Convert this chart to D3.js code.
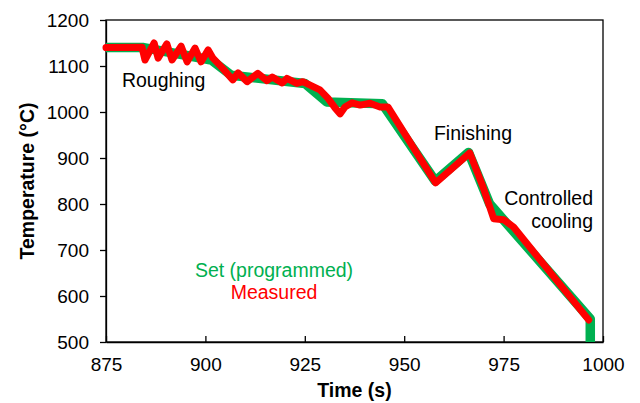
<!DOCTYPE html>
<html>
<head>
<meta charset="utf-8">
<script src="https://cdn.jsdelivr.net/npm/d3@7"></script>
<style>
  html, body { margin: 0; padding: 0; background: #fff; }
  svg text { font-family: "Liberation Sans", Arial, sans-serif; }
</style>
</head>
<body>
<svg id="chart" width="640" height="403"></svg>
<script>
// Programmed (set) temperature schedule: [time s, temperature °C]
const setSchedule = [
  [875, 1140], [884.5, 1140], [901.5, 1113], [906.5, 1080], [925, 1062],
  [930.5, 1022], [944.5, 1018], [957.8, 850], [966.2, 912], [971.5, 800],
  [996.8, 550], [996.8, 500]
];

// Measured temperature: [time s, temperature °C]
const measured = [
  [875, 1140], [884.05, 1141], [884.8, 1113], [887.1, 1150], [888.1, 1117],
  [890.3, 1148], [891.6, 1113], [893.9, 1143], [895.4, 1109], [897.4, 1139],
  [898.9, 1109], [900.7, 1135], [901.9, 1117], [904, 1098], [906.9, 1070],
  [908.2, 1085], [910.5, 1066], [913.2, 1084], [915.5, 1068], [916.8, 1076],
  [919.3, 1063], [920.5, 1073], [923, 1062], [924.5, 1066], [928.8, 1048],
  [930.8, 1030], [932.6, 1009], [933.9, 996], [935.1, 1011], [936.9, 1020],
  [938.9, 1015], [941.4, 1019], [943.9, 1011], [945.9, 1011], [957.9, 846],
  [961.5, 873], [966.5, 911], [969.8, 838], [972.5, 768], [975, 766],
  [977.5, 750], [996.4, 548]
];

const xTicks = [875, 900, 925, 950, 975, 1000];
const yTicks = [500, 600, 700, 800, 900, 1000, 1100, 1200];

const stageLabels = [
  { lines: ["Roughing"], t: 879, temp: 1054, anchor: "start" },
  { lines: ["Finishing"], t: 967.3, temp: 939, anchor: "middle" },
  { lines: ["Controlled", "cooling"], t: 997.5, temp: 798, anchor: "end" }
];

const legendItems = [
  { label: "Set (programmed)", color: "#00b050" },
  { label: "Measured", color: "#ff0000" }
];

const svg = d3.select("#chart");
const x = d3.scaleLinear().domain([875, 1000]).range([106, 603]);
const y = d3.scaleLinear().domain([500, 1200]).range([342, 20]);

// plot frame
svg.append("rect")
  .attr("x", x(875)).attr("y", y(1200))
  .attr("width", x(1000) - x(875)).attr("height", y(500) - y(1200))
  .attr("fill", "none").attr("stroke", "#000").attr("stroke-width", 1.3);

// axes
const yAxis = svg.append("g")
  .attr("transform", `translate(${x(875)},0)`)
  .call(d3.axisLeft(y).tickValues(yTicks).tickFormat(d3.format("d"))
    .tickSizeInner(6).tickSizeOuter(0).tickPadding(11));
const xAxis = svg.append("g")
  .attr("transform", `translate(0,${y(500)})`)
  .call(d3.axisBottom(x).tickValues(xTicks).tickFormat(d3.format("d"))
    .tickSizeInner(-6).tickSizeOuter(0).tickPadding(16));

[xAxis, yAxis].forEach(g => {
  g.select(".domain").attr("stroke", "#000").attr("stroke-width", 1.3);
  g.selectAll(".tick line").attr("stroke", "#000").attr("stroke-width", 1.3);
  g.selectAll(".tick text")
    .attr("fill", "#000")
    .style("font-size", "19px")
    .style("font-family", "'Liberation Sans', Arial, sans-serif");
});

// axis titles
svg.append("text")
  .attr("x", (x(875) + x(1000)) / 2).attr("y", 397)
  .attr("text-anchor", "middle")
  .style("font-size", "19.5px").style("font-weight", "bold")
  .text("Time (s)");
svg.append("text")
  .attr("transform", `translate(34,${(y(500) + y(1200)) / 2}) rotate(-90)`)
  .attr("text-anchor", "middle")
  .style("font-size", "19.5px").style("font-weight", "bold")
  .text("Temperature (°C)");

// temperature curves
const line = d3.line().x(d => x(d[0])).y(d => y(d[1]));

svg.append("path")
  .datum(setSchedule)
  .attr("d", line)
  .attr("fill", "none")
  .attr("stroke", legendItems[0].color)
  .attr("stroke-width", 9.5)
  .attr("stroke-linejoin", "round");

svg.append("path")
  .datum(measured)
  .attr("d", line)
  .attr("fill", "none")
  .attr("stroke", legendItems[1].color)
  .attr("stroke-width", 7)
  .attr("stroke-linejoin", "round")
  .attr("stroke-linecap", "round");

// rolling stage annotations
stageLabels.forEach(s => {
  const t = svg.append("text")
    .attr("x", x(s.t)).attr("y", y(s.temp))
    .attr("text-anchor", s.anchor)
    .style("font-size", "19.5px")
    .attr("fill", "#000");
  s.lines.forEach((l, i) => {
    t.append("tspan").attr("x", x(s.t)).attr("dy", i === 0 ? 0 : 23).text(l);
  });
});

// legend
legendItems.forEach((item, i) => {
  svg.append("text")
    .attr("x", 274).attr("y", 277 + i * 21.5)
    .attr("text-anchor", "middle")
    .style("font-size", "19.5px")
    .attr("fill", item.color)
    .text(item.label);
});
</script>
</body>
</html>
